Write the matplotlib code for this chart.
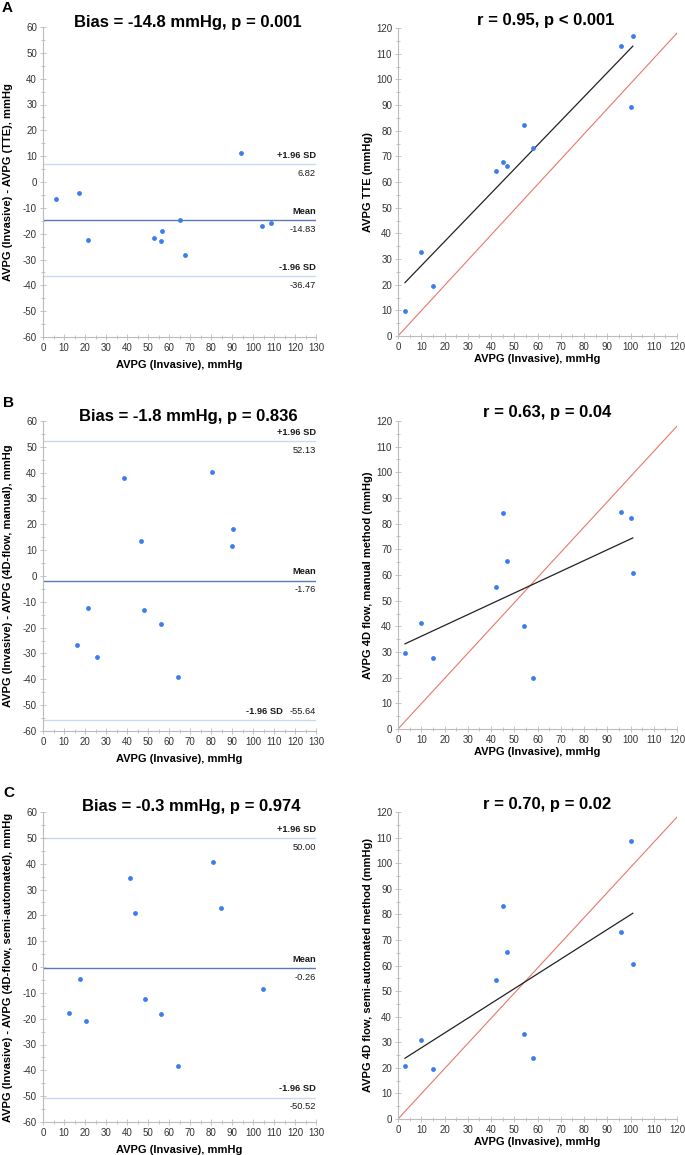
import matplotlib
matplotlib.use('Agg')
import matplotlib.pyplot as plt
from matplotlib.ticker import MultipleLocator
import numpy as np

plt.rcParams['font.family'] = ['Liberation Sans', 'DejaVu Sans']
plt.rcParams['axes.unicode_minus'] = False

# invasive gradient (x of correlation plots)
invasive = [3, 10, 15, 42, 45, 47, 54, 58, 96, 100, 101]

# correlation plots, y values
tte = [9.6, 32.6, 19.5, 64.1, 67.9, 66.3, 82.2, 73.1, 113.0, 89.2, 117.0]
flow_manual = [29.8, 41.4, 27.5, 55.2, 84.1, 65.6, 40.3, 20.0, 84.6, 82.1, 60.9]
flow_semi = [20.8, 30.7, 19.4, 54.3, 83.3, 65.1, 33.2, 23.7, 73.0, 108.5, 60.4]

# Bland-Altman plots
ba_tte_x = [6.4, 17.0, 21.2, 94.2, 52.8, 56.3, 56.5, 65.2, 67.8, 104.2, 108.7]
ba_tte_y = [-6.6, -4.3, -22.6, 11.1, -21.8, -22.7, -19.1, -14.8, -28.1, -16.9, -16.0]
ba_manual_x = [16.2, 21.2, 25.6, 38.8, 46.9, 48.2, 56.2, 64.4, 80.7, 90.7, 89.9]
ba_manual_y = [-26.7, -12.4, -31.4, 37.9, 13.6, -13.1, -18.6, -39.1, 40.2, 18.0, 11.5]
ba_semi_x = [12.3, 17.5, 20.7, 41.2, 43.9, 48.4, 56.3, 64.4, 81.0, 84.8, 104.7]
ba_semi_y = [-17.9, -4.5, -20.8, 34.3, 20.9, -12.4, -18.2, -38.5, 40.6, 23.0, -8.6]

# mean and limits of agreement: (upper, mean, lower)
loa_tte = [6.82, -14.83, -36.47]
loa_manual = [52.13, -1.76, -55.64]
loa_semi = [50.00, -0.26, -50.52]

# reference line end points
ident_x = [0, 120]
ident_y = [0, 118]

ba_titles = ['Bias = -14.8 mmHg, p = 0.001', 'Bias = -1.8 mmHg, p = 0.836', 'Bias = -0.3 mmHg, p = 0.974']
corr_titles = ['r = 0.95, p < 0.001', 'r = 0.63, p = 0.04', 'r = 0.70, p = 0.02']
ba_ylabels = ['AVPG (Invasive) - AVPG (TTE), mmHg',
              'AVPG (Invasive) - AVPG (4D-flow, manual), mmHg',
              'AVPG (Invasive) - AVPG (4D-flow, semi-automated), mmHg']
corr_ylabels = ['AVPG TTE (mmHg)', 'AVPG 4D flow, manual method (mmHg)',
                'AVPG 4D flow, semi-automated method (mmHg)']
letters = ['A', 'B', 'C']

DOT = '#3b7ded'
AX = '#bcbcbc'
W, H = 685, 1155


def px_axes(left, top, right, bottom):
    return [left / W, 1 - bottom / H, (right - left) / W, (bottom - top) / H]


def style(ax, xmax, ymin, ymax):
    ax.set_xlim(0, xmax)
    ax.set_ylim(ymin, ymax)
    ax.xaxis.set_major_locator(MultipleLocator(10))
    ax.xaxis.set_minor_locator(MultipleLocator(5))
    ax.yaxis.set_major_locator(MultipleLocator(10))
    ax.yaxis.set_minor_locator(MultipleLocator(5))
    for s in ['top', 'right']:
        ax.spines[s].set_visible(False)
    for s in ['left', 'bottom']:
        ax.spines[s].set_color(AX)
        ax.spines[s].set_linewidth(0.8)
    ax.tick_params(which='both', direction='inout', length=4, width=0.6, color=AX,
                   labelsize=7, labelcolor='#333333', pad=2.3)
    ax.tick_params(which='minor', length=3.5)


fig = plt.figure(figsize=(6.85, 11.55), dpi=100)

ba_boxes = [(43, 27, 316, 337), (43, 421, 316, 731), (43, 812, 316, 1122)]
corr_boxes = [(398, 28, 677, 336), (398, 421, 677, 729), (398, 812, 677, 1119)]
ba_title_pos = [(188, 22), (188, 417), (191, 807)]
corr_title_pos = [(546, 20), (547, 412), (547, 804)]
letter_pos = [(2, 8), (3, 403), (3, 793)]

ba_sets = [(ba_tte_x, ba_tte_y, loa_tte), (ba_manual_x, ba_manual_y, loa_manual),
           (ba_semi_x, ba_semi_y, loa_semi)]
corr_sets = [tte, flow_manual, flow_semi]

for i in range(3):
    # Bland-Altman
    ax = fig.add_axes(px_axes(*ba_boxes[i]))
    bx, by, loa = ba_sets[i]
    style(ax, 130, -60, 60)
    ax.axhline(loa[0], color='#cad8f0', lw=1.0, zorder=1)
    ax.axhline(loa[2], color='#cad8f0', lw=1.0, zorder=1)
    ax.axhline(loa[1], color='#5b79b5', lw=1.0, zorder=1)
    ax.scatter(bx, by, s=12, color=DOT, zorder=3, linewidths=0)
    lab = dict(ha='right', fontsize=6.7, textcoords='offset points', color='#1a1a1a')
    for val, name in [(loa[0], '+1.96 SD'), (loa[1], 'Mean'), (loa[2], '-1.96 SD')]:
        if i == 1 and name == '-1.96 SD':
            ax.annotate(name, xy=(130, val), xytext=(-24, 3), va='bottom', fontweight='bold', **lab)
            ax.annotate(f'{val:.2f}', xy=(130, val), xytext=(0, 3), va='bottom', **lab)
        else:
            ax.annotate(name, xy=(130, val), xytext=(0, 3), va='bottom', fontweight='bold', **lab)
            ax.annotate(f'{val:.2f}', xy=(130, val), xytext=(0, -3.5), va='top', **lab)
    ax.set_xlabel('AVPG (Invasive), mmHg', fontsize=8, fontweight='bold')
    ax.set_ylabel(ba_ylabels[i], fontsize=8, fontweight='bold')
    ax.xaxis.set_label_coords(0.5, -0.074)
    ax.yaxis.set_label_coords(-0.11, 0.5)

    # correlation
    ax2 = fig.add_axes(px_axes(*corr_boxes[i]))
    style(ax2, 120, 0, 120)
    yv = corr_sets[i]
    ax2.plot(ident_x, ident_y, color='#e8776a', lw=0.8, zorder=1)
    k, b = np.polyfit(invasive, yv, 1)
    xr = np.array([min(invasive), max(invasive)])
    ax2.plot(xr, k * xr + b, color='#222222', lw=0.9, zorder=2)
    ax2.scatter(invasive, yv, s=12, color=DOT, zorder=3, linewidths=0)
    ax2.set_xlabel('AVPG (Invasive), mmHg', fontsize=8, fontweight='bold')
    ax2.set_ylabel(corr_ylabels[i], fontsize=8, fontweight='bold')
    ax2.xaxis.set_label_coords(0.5, -0.06)
    ax2.yaxis.set_label_coords(-0.088, 0.5)

    tx, ty = ba_title_pos[i]
    fig.text(tx / W, 1 - ty / H, ba_titles[i], ha='center', va='center', fontsize=12, fontweight='bold')
    tx, ty = corr_title_pos[i]
    fig.text(tx / W, 1 - ty / H, corr_titles[i], ha='center', va='center', fontsize=12, fontweight='bold')
    lx, ly = letter_pos[i]
    fig.text(lx / W, 1 - ly / H, letters[i], ha='left', va='center', fontsize=11, fontweight='bold')

fig.savefig('out.png', dpi=100)
